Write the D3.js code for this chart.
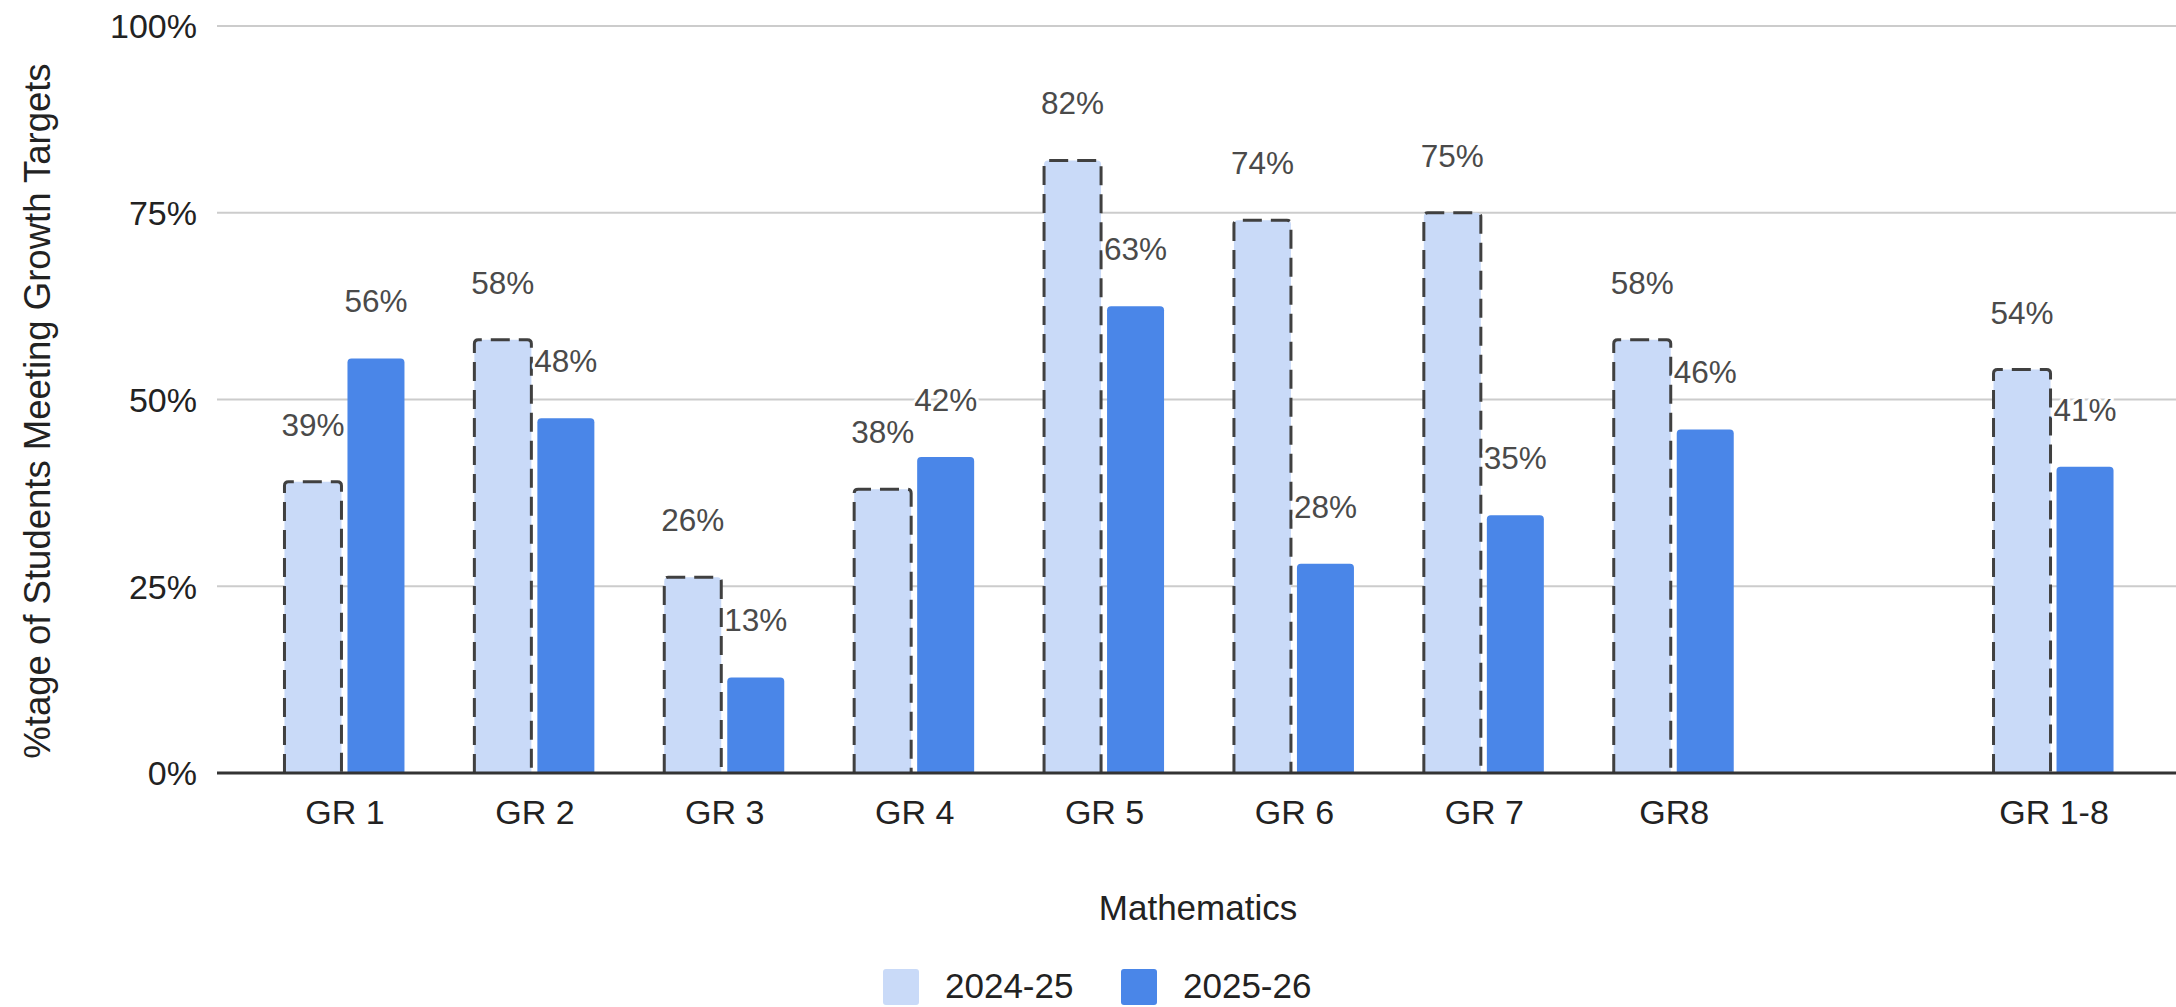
<!DOCTYPE html>
<html>
<head>
<meta charset="utf-8">
<script src="https://cdn.jsdelivr.net/npm/d3@7"></script>
<style>
  html, body { margin: 0; padding: 0; background: #fff; }
  svg { display: block; }
  text { font-family: "Liberation Sans", Arial, sans-serif; }
</style>
</head>
<body>
<svg id="chart" width="2176" height="1007"></svg>
<script>
// ---- data ----
const categories = ["GR 1", "GR 2", "GR 3", "GR 4", "GR 5", "GR 6", "GR 7", "GR8", "", "GR 1-8"];
const series2024 = [39, 58, 26.2, 38, 82, 74, 75, 58, null, 54];
const series2025 = [55.5, 47.5, 12.8, 42.3, 62.5, 28, 34.5, 46, null, 41];
const seriesNames = ["2024-25", "2025-26"];
const yTicks = [0, 25, 50, 75, 100];
const xTitle = "Mathematics";
const yTitle = "%tage of Students Meeting Growth Targets";

// ---- layout ----
const W = 2176, H = 1007;
const plot = { left: 217, right: 2179, top: 26, bottom: 773 };
const colors = { light: "#c9daf8", dark: "#4a86e8", dash: "#404040" };
const barW = 57;

const svg = d3.select("#chart");

const x = d3.scalePoint().domain(categories).range([plot.left, plot.right]).padding(0.666);
const y = d3.scaleLinear().domain([0, 100]).range([plot.bottom, plot.top]);

// gridlines
svg.append("g").selectAll("line").data(yTicks.filter(d => d > 0)).join("line")
  .attr("x1", plot.left).attr("x2", plot.right)
  .attr("y1", d => y(d)).attr("y2", d => y(d))
  .attr("stroke", "#cccccc").attr("stroke-width", 2);

// y axis labels
const yAxis = svg.append("g").attr("transform", `translate(${plot.left},0)`)
  .call(d3.axisLeft(y).tickValues(yTicks).tickFormat(d => d + "%").tickSize(0).tickPadding(20));
yAxis.select(".domain").remove();
yAxis.selectAll("text").attr("font-size", 34).attr("fill", "#222").attr("dy", "0.35em")
  .style("font-family", "'Liberation Sans', Arial, sans-serif");

// rounded-top bar path
function topRounded(x0, y0, w, h, r) {
  r = Math.min(r, h, w / 2);
  return `M${x0},${y0 + h}V${y0 + r}Q${x0},${y0} ${x0 + r},${y0}H${x0 + w - r}Q${x0 + w},${y0} ${x0 + w},${y0 + r}V${y0 + h}`;
}

const rows = categories.map((c, i) => ({ c, a: series2024[i], b: series2025[i] }));

// light bars (2024-25) with dashed outline
const gA = svg.append("g");
rows.filter(d => d.a != null).forEach(d => {
  const x0 = x(d.c) - 59, y0 = y(d.a), h = y(0) - y(d.a);
  gA.append("path").attr("d", topRounded(x0, y0, barW, h, 4) + "Z").attr("fill", colors.light);
  gA.append("path").attr("d", topRounded(x0, y0, barW, h, 4))
    .attr("fill", "none").attr("stroke", colors.dash).attr("stroke-width", 3)
    .attr("stroke-dasharray", "19 9");
});

// dark bars (2025-26)
const gB = svg.append("g");
rows.filter(d => d.b != null).forEach(d => {
  const x0 = x(d.c) + 4, y0 = y(d.b), h = y(0) - y(d.b);
  gB.append("path").attr("d", topRounded(x0, y0, barW, h, 4) + "Z").attr("fill", colors.dark);
});

// baseline
svg.append("line").attr("x1", plot.left).attr("x2", plot.right)
  .attr("y1", y(0)).attr("y2", y(0)).attr("stroke", "#333").attr("stroke-width", 3);

// x axis labels
const xAxis = svg.append("g").attr("transform", `translate(0,${plot.bottom})`)
  .call(d3.axisBottom(x).tickSize(0));
xAxis.select(".domain").remove();
xAxis.selectAll("text").attr("font-size", 34).attr("fill", "#222").attr("y", 51).attr("dy", 0)
  .attr("dx", 1)
  .style("font-family", "'Liberation Sans', Arial, sans-serif");

// data labels
const labels = svg.append("g").attr("font-size", 31.5).attr("fill", "#4a4a4a")
  .attr("text-anchor", "middle")
  .attr("stroke", "#fff").attr("stroke-width", 6).attr("paint-order", "stroke")
  .attr("stroke-linejoin", "round");
rows.forEach(d => {
  if (d.a != null) labels.append("text").attr("x", x(d.c) - 30.5).attr("y", y(d.a) - 46)
    .text(Math.round(d.a) + "%");
  if (d.b != null) labels.append("text").attr("x", x(d.c) + 32.5).attr("y", y(d.b) - 46)
    .text(Math.round(d.b) + "%");
});

// axis titles
svg.append("text").attr("x", (plot.left + plot.right) / 2).attr("y", 920)
  .attr("text-anchor", "middle").attr("font-size", 35).attr("fill", "#222").text(xTitle);
svg.append("text").attr("transform", `translate(50,411) rotate(-90)`)
  .attr("text-anchor", "middle").attr("font-size", 36.5).attr("fill", "#222").text(yTitle);

// legend
const legend = svg.append("g");
const legendItems = [
  { name: seriesNames[0], color: colors.light, x: 883 },
  { name: seriesNames[1], color: colors.dark, x: 1121 }
];
legendItems.forEach(it => {
  legend.append("rect").attr("x", it.x).attr("y", 969).attr("width", 36).attr("height", 36)
    .attr("rx", 3).attr("fill", it.color);
  legend.append("text").attr("x", it.x + 62).attr("y", 998).attr("font-size", 35)
    .attr("fill", "#222").text(it.name);
});
</script>
</body>
</html>
